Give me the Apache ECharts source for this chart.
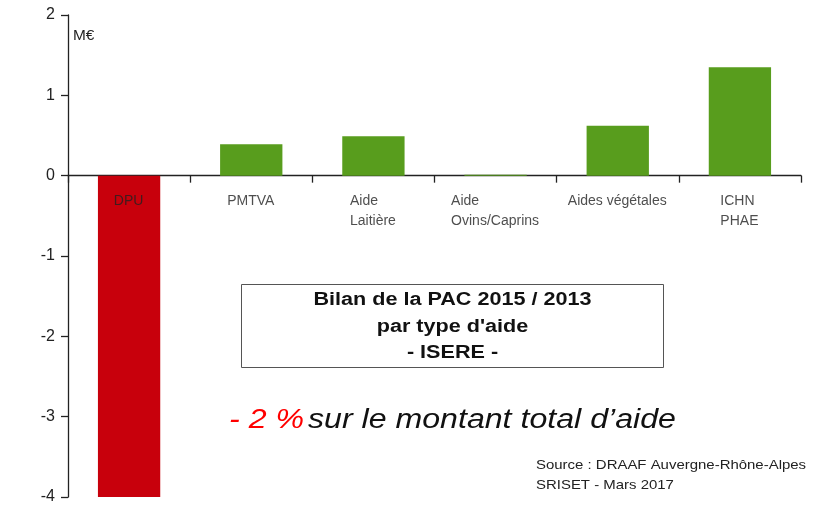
<!DOCTYPE html>
<html>
<head>
<meta charset="utf-8">
<script src="https://cdn.jsdelivr.net/npm/echarts@6/dist/echarts.min.js"></script>
<style>
  html, body { margin: 0; padding: 0; background: #fff; }
  #chart { width: 826px; height: 528px; }
</style>
</head>
<body>
<div id="chart"></div>
<script>
// categories and values (M€, 2015 vs 2013)
const categories = ['DPU', 'PMTVA', 'Aide\nLaitière', 'Aide\nOvins/Caprins', 'Aides végétales', 'ICHN\nPHAE'];
const values = [-4.0, 0.39, 0.49, 0.01, 0.62, 1.35];
const yTicks = [-4, -3, -2, -1, 0, 1, 2];

const RED = '#c8000c';
const GREEN = '#589d1d';
const FONT = '"Liberation Sans", Arial, sans-serif';
const LABEL_SIZE = 14;

// measure the widest line so that multi-line labels stay left aligned in a centred block
const ctx = document.createElement('canvas').getContext('2d');
ctx.font = LABEL_SIZE + 'px ' + FONT;
function labelWidth(txt) {
    return Math.max(...txt.split('\n').map(l => ctx.measureText(l).width)) + 1;
}

const chart = echarts.init(document.getElementById('chart'));

const option = {
    animation: false,
    grid: { left: 68, right: 25, top: 15, bottom: 31, containLabel: false, outerBoundsMode: 'none' },
    xAxis: {
        type: 'category',
        data: categories,
        axisLine: { onZero: true, lineStyle: { color: '#222', width: 1.3 } },
        axisTick: { show: true, length: 7, lineStyle: { color: '#222', width: 1.3 } },
        axisLabel: { show: false }
    },
    yAxis: {
        type: 'value',
        min: yTicks[0],
        max: yTicks[yTicks.length - 1],
        interval: 1,
        splitLine: { show: false },
        axisLine: { show: true, lineStyle: { color: '#222', width: 1.3 } },
        axisTick: { show: true, length: 7, lineStyle: { color: '#222', width: 1.3 } },
        axisLabel: { fontSize: 16, color: '#222', fontFamily: FONT, margin: 13 }
    },
    series: [
        {
            type: 'bar',
            barWidth: '51%',
            data: values.map(v => ({ value: v, itemStyle: { color: v < 0 ? RED : GREEN } }))
        },
        {
            // category names hung just under the zero line
            type: 'scatter',
            symbolSize: 1,
            itemStyle: { color: 'rgba(0,0,0,0)' },
            silent: true,
            z: 5,
            data: categories.map((c, i) => ({
                value: [i, 0],
                name: c,
                label: {
                    rich: { l: { width: labelWidth(c), align: 'left', fontSize: LABEL_SIZE, lineHeight: 20, fontFamily: FONT, color: '#222' } }
                }
            })),
            label: {
                show: true,
                position: 'bottom',
                distance: 15,
                formatter: p => p.name.split('\n').map(l => '{l|' + l + '}').join('\n')
            }
        }
    ],
    graphic: [
        { type: 'text', x: 73, y: 29, scaleX: 1.1, style: { text: 'M€', fontSize: 14, fontFamily: FONT, fill: '#222', verticalAlign: 'top' } },
        {
            type: 'group', left: 241, top: 284,
            children: [
                { type: 'rect', shape: { x: 0, y: 0, width: 422, height: 83 }, style: { fill: '#fff', stroke: '#555', lineWidth: 1 } },
                {
                    type: 'text', x: 211, y: 42.5, scaleX: 1.2,
                    style: {
                        text: 'Bilan de la PAC 2015 / 2013\npar type d\'aide\n- ISERE -',
                        align: 'center', verticalAlign: 'middle',
                        fontSize: 18, fontWeight: 'bold', lineHeight: 26.5, fontFamily: FONT, fill: '#111'
                    }
                }
            ]
        },
        {
            type: 'text', x: 229, y: 407, scaleX: 1.19,
            style: {
                text: '{r|- 2 %} {b|sur le montant total d’aide}',
                rich: {
                    r: { fontSize: 27, fontStyle: 'italic', fontFamily: FONT, fill: '#ff0000' },
                    b: { fontSize: 27, fontStyle: 'italic', fontFamily: FONT, fill: '#111' }
                }
            }
        },
        {
            type: 'text', x: 536, y: 455, scaleX: 1.15,
            style: {
                text: 'Source : DRAAF Auvergne-Rhône-Alpes\nSRISET - Mars 2017',
                fontSize: 13, lineHeight: 20, fontFamily: FONT, fill: '#222', verticalAlign: 'top'
            }
        }
    ]
};

chart.setOption(option);
</script>
</body>
</html>
